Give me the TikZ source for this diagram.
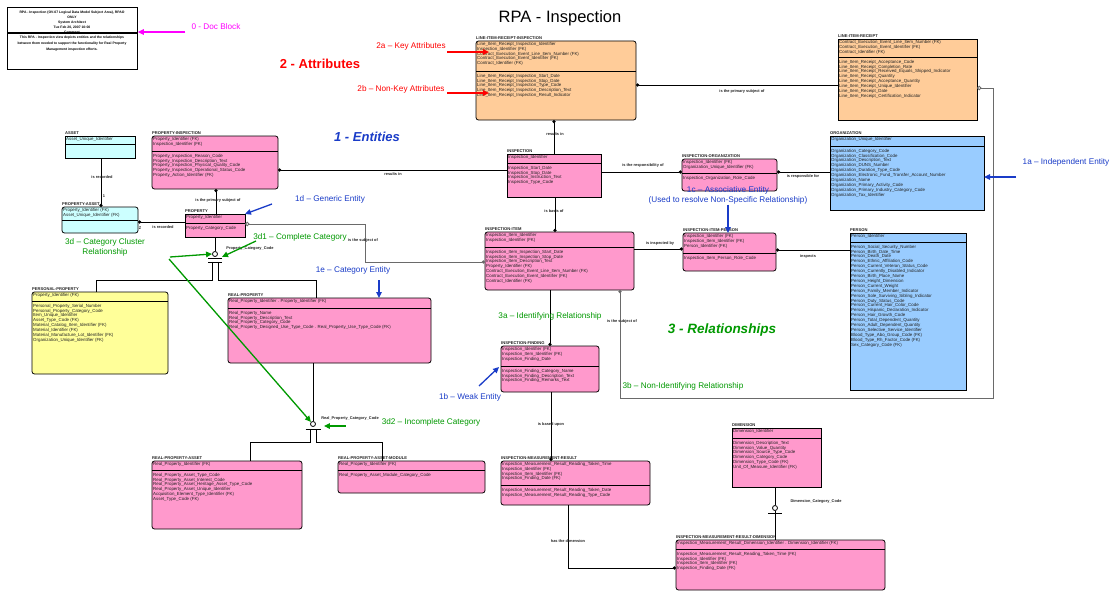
\documentclass[tikz,border=0pt]{standalone}
\usepackage{fontspec}
\setmainfont{Liberation Sans}
\usetikzlibrary{arrows.meta}

\definecolor{entpink}{HTML}{FF99CC}
\definecolor{entorange}{HTML}{FFCC99}
\definecolor{entcyan}{HTML}{CCFFFF}
\definecolor{entblue}{HTML}{99CCFF}
\definecolor{entyellow}{HTML}{FFFF99}
\definecolor{annred}{HTML}{FF0000}
\definecolor{annblue}{HTML}{1A3CC8}
\definecolor{anngreen}{HTML}{009900}
\definecolor{annmag}{HTML}{FF00FF}
\definecolor{nonid}{HTML}{6A6A6A}
\definecolor{etxt}{HTML}{222222}

\tikzset{
  ebox/.style={draw=black,line width=0.8pt,inner sep=0pt,outer sep=0pt},
  dep/.style={rounded corners=2.5pt},
  etitle/.style={font=\fontsize{4.1}{4.6}\selectfont\bfseries,inner sep=0pt,anchor=base west,text=etxt},
  etext/.style={font=\fontsize{4.4}{4.9}\selectfont,align=left,inner sep=0pt,anchor=north west,text=etxt},
  esep/.style={line width=0.7pt},
  rel/.style={draw=black,line width=0.8pt},
  nrel/.style={draw=nonid,line width=0.9pt},
  rlab/.style={font=\fontsize{3.9}{4.4}\selectfont\bfseries,inner sep=0pt,text=etxt},
  catc/.style={circle,draw,fill=white,line width=0.8pt,minimum size=5pt,inner sep=0pt},
  ann/.style={line width=1.3pt,-{Triangle[length=6pt,width=5.5pt]}},
  annlab/.style={font=\fontsize{8.2}{10}\selectfont,inner sep=0pt,align=center},
  headlab/.style={font=\fontsize{13}{15}\selectfont\bfseries,inner sep=0pt},
  doct/.style={font=\fontsize{3.4}{5}\selectfont\bfseries,align=center,inner sep=0pt},
}

% entity box: name, look, x1, y1, x2, y2, separator y, title, key attributes
\newcommand\entity[9]{%
  \node[ebox,#2,minimum width={#5-#3},minimum height={#6-#4},anchor=north west] (#1) at (#3,#4) {};
  \draw[esep] (#1.west |- 0,#7) -- (#1.east |- 0,#7);
  \node[etitle] (#1-t) at ([yshift=1.3pt]#1.north west) {#8};
  \node[etext,xshift=1pt,yshift=-0.9pt] (#1-k) at (#1.north west) {#9};
}
% non-key attributes below the separator
\newcommand\nonkey[3]{%
  \node[etext,xshift=1pt,yshift=-2.8pt] (#1-n) at (#1.west |- 0,#2) {#3};
}

\begin{document}
\catcode`\_=12
\begin{tikzpicture}[x=1pt,y=-1pt]
\fill[white] (0,0) rectangle (1114,594);
\useasboundingbox (0,0) rectangle (1114,594);

% ---------------- heading and document block ----------------
\node[font=\fontsize{16.5}{18}\selectfont,inner sep=0pt] (title) at (560,18) {RPA - Inspection};

\node[draw,line width=0.8pt,minimum width=130,minimum height=62,anchor=north west,inner sep=0pt] (doc) at (7,7) {};
\draw[line width=1.2pt] (doc.west |- 0,33) -- (doc.east |- 0,33);
\node[doct] (doc-h) at (72,19.8) {RPA - Inspection (OV-07 Logical Data Model Subject Area), RPAO\\ONLY\\System Architect\\Tue Feb 20, 2007 10:00};
\node[doct] (doc-c) at (72,32.4) {Comment};
\node[doct,font=\fontsize{3.4}{6.3}\selectfont\bfseries] (doc-b) at (72,43.6) {This RPA - Inspection view depicts entities and the relationships\\between them needed to support the functionality for Real Property\\Management inspection efforts.};

% ---------------- entities ----------------
\entity{lirinsp}{fill=entorange,dep}{476}{41}{636}{120}{71}{LINE-ITEM-RECEIPT-INSPECTION}{Line_Item_Receipt_Inspection_Identifier\\Inspection_Identifier (FK)\\Contract_Execution_Event_Line_Item_Number (FK)\\Contract_Execution_Event_Identifier (FK)\\Contract_Identifier (FK)}
\nonkey{lirinsp}{71}{Line_Item_Receipt_Inspection_Start_Date\\Line_Item_Receipt_Inspection_Stop_Date\\Line_Item_Receipt_Inspection_Type_Code\\Line_Item_Receipt_Inspection_Description_Text\\Line_Item_Receipt_Inspection_Result_Indicator}

\entity{lir}{fill=entorange}{838}{39}{977}{120}{57}{LINE-ITEM-RECEIPT}{Contract_Execution_Event_Line_Item_Number (FK)\\Contract_Execution_Event_Identifier (FK)\\Contract_Identifier (FK)}
\nonkey{lir}{57}{Line_Item_Receipt_Acceptance_Code\\Line_Item_Receipt_Completion_Rate\\Line_Item_Receipt_Received_Equals_Shipped_Indicator\\Line_Item_Receipt_Quantity\\Line_Item_Receipt_Acceptance_Quantity\\Line_Item_Receipt_Unique_Identifier\\Line_Item_Receipt_Date\\Line_Item_Receipt_Certification_Indicator}

\entity{insp}{fill=entpink}{507}{154}{601}{197}{163}{INSPECTION}{Inspection_Identifier}
\nonkey{insp}{163}{Inspection_Start_Date\\Inspection_Stop_Date\\Inspection_Instruction_Text\\Inspection_Type_Code}

\entity{inorg}{fill=entpink,dep}{682}{159}{777}{191}{173}{INSPECTION-ORGANIZATION}{Inspection_Identifier (FK)\\Organization_Unique_Identifier (FK)}
\nonkey{inorg}{173}{Inspection_Organization_Role_Code}

\entity{org}{fill=entblue}{830}{136}{984}{210}{146}{ORGANIZATION}{Organization_Unique_Identifier}
\nonkey{org}{146}{Organization_Category_Code\\Organization_Classification_Code\\Organization_Description_Text\\Organization_DUNS_Number\\Organization_Duration_Type_Code\\Organization_Electronic_Fund_Transfer_Account_Number\\Organization_Name\\Organization_Primary_Activity_Code\\Organization_Primary_Industry_Category_Code\\Organization_Tax_Identifier}

\entity{pinsp}{fill=entpink,dep}{152}{136}{278}{189}{151}{PROPERTY-INSPECTION}{Property_Identifier (FK)\\Inspection_Identifier (FK)}
\nonkey{pinsp}{151}{Property_Inspection_Reason_Code\\Property_Inspection_Description_Text\\Property_Inspection_Physical_Quality_Code\\Property_Inspection_Operational_Status_Code\\Property_Action_Identifier (FK)}

\entity{asset}{fill=entcyan}{65}{136}{135}{158}{144}{ASSET}{Asset_Unique_Identifier}

\entity{passet}{fill=entcyan,dep}{62}{207}{138}{233}{220}{PROPERTY-ASSET}{Property_Identifier (FK)\\Asset_Unique_Identifier (FK)}

\entity{prop}{fill=entpink}{185}{214}{245}{237}{223}{PROPERTY}{Property_Identifier}
\nonkey{prop}{223}{Property_Category_Code}

\entity{item}{fill=entpink,dep}{485}{232}{634}{290}{247}{INSPECTION-ITEM}{Inspection_Item_Identifier\\Inspection_Identifier (FK)}
\nonkey{item}{247}{Inspection_Item_Inspection_Start_Date\\Inspection_Item_Inspection_Stop_Date\\Inspection_Item_Description_Text\\Property_Identifier (FK)\\Contract_Execution_Event_Line_Item_Number (FK)\\Contract_Execution_Event_Identifier (FK)\\Contract_Identifier (FK)}

\entity{itemp}{fill=entpink,dep}{683}{233}{776}{271}{253}{INSPECTION-ITEM-PERSON}{Inspection_Identifier (FK)\\Inspection_Item_Identifier (FK)\\Person_Identifier (FK)}
\nonkey{itemp}{253}{Inspection_Item_Person_Role_Code}

\entity{person}{fill=entblue}{850}{233}{966}{390}{242}{PERSON}{Person_Identifier}
\nonkey{person}{242}{Person_Social_Security_Number\\Person_Birth_Date_Time\\Person_Death_Date\\Person_Ethnic_Affiliation_Code\\Person_Current_Veteran_Status_Code\\Person_Currently_Disabled_Indicator\\Person_Birth_Place_Name\\Person_Height_Dimension\\Person_Current_Weight\\Person_Family_Member_Indicator\\Person_Sole_Surviving_Sibling_Indicator\\Person_Duty_Status_Code\\Person_Current_Hair_Color_Code\\Person_Hispanic_Declaration_Indicator\\Person_Hair_Growth_Code\\Person_Total_Dependent_Quantity\\Person_Adult_Dependent_Quantity\\Person_Selective_Service_Identifier\\Blood_Type_Abo_Group_Code (FK)\\Blood_Type_Rh_Factor_Code (FK)\\Sex_Category_Code (FK)}

\entity{pers}{fill=entyellow,dep}{32}{292}{168}{374}{301}{PERSONAL-PROPERTY}{Property_Identifier (FK)}
\nonkey{pers}{301}{Personal_Property_Serial_Number\\Personal_Property_Category_Code\\Item_Unique_Identifier\\Asset_Type_Code (FK)\\Material_Catalog_Item_Identifier (FK)\\Material_Identifier (FK)\\Material_Manufacture_Lot_Identifier (FK)\\Organization_Unique_Identifier (FK)}

\entity{realp}{fill=entpink,dep}{228}{298}{431}{363}{308}{REAL-PROPERTY}{Real_Property_Identifier . Property_Identifier (FK)}
\nonkey{realp}{308}{Real_Property_Name\\Real_Property_Description_Text\\Real_Property_Category_Code\\Real_Property_Designed_Use_Type_Code . Real_Property_Use_Type_Code (FK)}

\entity{rpa}{fill=entpink,dep}{152}{461}{302}{529}{470}{REAL-PROPERTY-ASSET}{Real_Property_Identifier (FK)}
\nonkey{rpa}{470}{Real_Property_Asset_Type_Code\\Real_Property_Asset_Interest_Code\\Real_Property_Asset_Heritage_Asset_Type_Code\\Real_Property_Asset_Unique_Identifier\\Acquisition_Element_Type_Identifier (FK)\\Asset_Type_Code (FK)}

\entity{rpam}{fill=entpink,dep}{338}{461}{485}{493}{470}{REAL-PROPERTY-ASSET-MODULE}{Real_Property_Identifier (FK)}
\nonkey{rpam}{470}{Real_Property_Asset_Module_Category_Code}

\entity{find}{fill=entpink,dep}{501}{346}{599}{392}{366}{INSPECTION-FINDING}{Inspection_Identifier (FK)\\Inspection_Item_Identifier (FK)\\Inspection_Finding_Date}
\nonkey{find}{366}{Inspection_Finding_Category_Name\\Inspection_Finding_Description_Text\\Inspection_Finding_Remarks_Text}

\entity{imr}{fill=entpink,dep}{501}{461}{650}{505}{485}{INSPECTION-MEASUREMENT-RESULT}{Inspection_Measurement_Result_Reading_Taken_Time\\Inspection_Identifier (FK)\\Inspection_Item_Identifier (FK)\\Inspection_Finding_Date (FK)}
\nonkey{imr}{485}{Inspection_Measurement_Result_Reading_Taken_Date\\Inspection_Measurement_Result_Reading_Type_Code}

\entity{dim}{fill=entpink}{732}{428}{821}{487}{438}{DIMENSION}{Dimension_Identifier}
\nonkey{dim}{438}{Dimension_Description_Text\\Dimension_Value_Quantity\\Dimension_Source_Type_Code\\Dimension_Category_Code\\Dimension_Type_Code (FK)\\Unit_Of_Measure_Identifier (FK)}

\entity{imrd}{fill=entpink,dep}{676}{540}{885}{590}{549}{INSPECTION-MEASUREMENT-RESULT-DIMENSION}{Inspection_Measurement_Result_Dimension_Identifier . Dimension_Identifier (FK)}
\nonkey{imrd}{549}{Inspection_Measurement_Result_Reading_Taken_Time (FK)\\Inspection_Identifier (FK)\\Inspection_Item_Identifier (FK)\\Inspection_Finding_Date (FK)}

% ---------------- relationships ----------------
\coordinate (bendA) at (993,398);
\coordinate (bendB) at (365,262);

\draw[rel,{Circle[length=3.2pt]}-] (lirinsp.east |- 0,85) -- (lir.west |- 0,85);
\draw[nrel,{Circle[open,length=4.5pt]}-{Circle[length=3.2pt]}] (lir.east |- 0,88) -| (bendA) -| (item.south -| 620,0);
\draw[rel,{Circle[length=3.2pt]}-] (lirinsp.south -| 554,0) -- (insp.north -| 554,0);
\draw[rel,{Circle[length=3.2pt]}-] (pinsp.east |- 0,170) -- (insp.west |- 0,170);
\draw[rel,-{Circle[length=3.2pt]}] (insp.east |- 0,172) -- (inorg.west |- 0,172);
\draw[rel,{Circle[length=3.2pt]}-] (inorg.east |- 0,172) -- (org.west |- 0,172);
\draw[rel,-{Circle[length=3.2pt]}] (insp.south -| 555,0) -- (item.north -| 555,0);
\draw[rel,-{Circle[length=3.2pt]}] (item.east |- 0,249) -- (itemp.west |- 0,249);
\draw[rel,{Circle[length=3.2pt]}-] (itemp.east |- 0,250) -- (person.west |- 0,250);
\draw[rel,-{Circle[length=3.2pt]}] (item.south -| 550,0) -- (find.north -| 550,0);
\draw[rel,-{Circle[length=3.2pt]}] (find.south -| 551,0) -- (imr.north -| 551,0);
\draw[rel,-{Circle[length=3.2pt]}] (imr.south -| 568,0) |- (imrd.west |- 0,568);
\draw[rel,-{Circle[length=3.2pt]}] (asset.south -| 101,0) -- (passet.north -| 101,0);
\draw[rel,-{Circle[length=3.2pt]}] (prop.west |- 0,222) -- (passet.east |- 0,222);
\draw[rel,-{Circle[length=3.2pt]}] (prop.north -| 216,0) -- (pinsp.south -| 216,0);
\draw[nrel,{Circle[open,length=4.5pt]}-{Circle[length=3.2pt]}] (prop.east |- 0,224) -| (bendB) -- (item.west |- 0,262);

% complete category under PROPERTY
\node[catc] (cat1) at (215,254) {};
\coordinate (cat1L) at (96,280);
\coordinate (cat1R) at (316,280);
\draw[rel] (prop.south -| cat1) -- (cat1.north);
\draw[rel] ([xshift=-7pt,yshift=-1.6pt]cat1.south) -- ([xshift=7pt,yshift=-1.6pt]cat1.south);
\draw[rel] ([xshift=-7pt,yshift=-5pt]cat1.south) -- ([xshift=7pt,yshift=-5pt]cat1.south);
\draw[rel] ([xshift=-3pt,yshift=-5pt]cat1.south) |- (cat1L) -- (pers.north -| cat1L);
\draw[rel] ([xshift=3pt,yshift=-5pt]cat1.south) |- (cat1R) -- (realp.north -| cat1R);

% incomplete category under REAL-PROPERTY
\node[catc] (cat2) at (313,424) {};
\coordinate (cat2L) at (250,442);
\coordinate (cat2R) at (382,442);
\draw[rel] (realp.south -| cat2) -- (cat2.north);
\draw[rel] ([xshift=-7.5pt,yshift=-2.2pt]cat2.south) -- ([xshift=7.5pt,yshift=-2.2pt]cat2.south);
\draw[rel] ([xshift=-2.5pt,yshift=-2.2pt]cat2.south) |- (cat2L) -- (rpa.north -| cat2L);
\draw[rel] ([xshift=3.5pt,yshift=-2.2pt]cat2.south) |- (cat2R) -- (rpam.north -| cat2R);

% category under DIMENSION
\node[catc] (cat3) at (775,508) {};
\draw[rel] (dim.south -| cat3) -- (cat3.north);
\draw[rel] ([xshift=-7pt,yshift=-2.5pt]cat3.south) -- ([xshift=7pt,yshift=-2.5pt]cat3.south);
\draw[rel] (cat3.south) -- (imrd.north -| cat3);

% relationship verb phrases and discriminators
\node[rlab] (v1) at (742,91) {is the primary subject of};
\node[rlab] (v2) at (555,134) {results in};
\node[rlab] (v3) at (393,174) {results in};
\node[rlab] (v4) at (643,165) {is the responsibility of};
\node[rlab] (v5) at (803,176) {is responsible for};
\node[rlab] (v6) at (554,211) {is basis of};
\node[rlab] (v7) at (218,200) {is the primary subject of};
\node[rlab] (v8) at (102,177) {is recorded};
\node[rlab] (v9) at (163,227) {is recorded};
\node[rlab] (v10) at (363,240) {is the subject of};
\node[rlab] (v11) at (660,243) {is inspected by};
\node[rlab] (v12) at (808,256) {inspects};
\node[rlab] (v13) at (622,321) {is the subject of};
\node[rlab] (v14) at (551,424) {is based upon};
\node[rlab] (v15) at (568,541) {has the dimension};
\node[rlab] (d1) at (250,248) {Property_Category_Code};
\node[rlab] (d2) at (350,418) {Real_Property_Category_Code};
\node[rlab] (d3) at (816,501) {Dimension_Category_Code};
\node[rlab] (c1) at (104,196) {1};
\node[rlab] (c2) at (140,228) {Z};

% ---------------- annotations ----------------
\node[annlab,text=annmag] (a0) at (216,27) {0 - Doc Block};
\draw[ann,annmag] (a0.west |- 0,32) ++(-6,0) coordinate (a0s) -- (doc.east |- 0,32);

\node[headlab,text=annred] (a2) at (320,64) {2 - Attributes};
\node[annlab,text=annred] (a2a) at (411,46) {2a – Key Attributes};
\node[annlab,text=annred] (a2b) at (401,89) {2b – Non-Key Attributes};
\draw[ann,annred] (447,52) -- (lirinsp.west |- 0,52) -- ++(13,0);
\draw[ann,annred] (447,93) -- (lirinsp.west |- 0,93) -- ++(13,0);

\node[headlab,font=\fontsize{13}{15}\selectfont\bfseries\itshape,text=annblue] (a1) at (367,137) {1 - Entities};
\node[annlab,text=annblue] (a1a) at (1066,162) {1a – Independent Entity};
\draw[ann,annblue] (1016,177) -- (org.east |- 0,177);
\node[annlab,text=annblue] (a1b) at (470,397) {1b – Weak Entity};
\draw[ann,annblue] (479,386) -- (499,367);
\node[annlab,text=annblue] (a1c) at (728,195.5) {1c – Associative Entity\\(Used to resolve Non-Specific Relationship)};
\draw[ann,annblue] (a1c.south -| 728,0) -- (itemp.north -| 728,0);
\node[annlab,text=annblue] (a1d) at (330,199) {1d – Generic Entity};
\draw[ann,annblue] (272,204) -- (prop.north east);
\node[annlab,text=annblue] (a1e) at (353,270) {1e – Category Entity};
\draw[ann,annblue] (379,280) -- (realp.north -| 379,0);

\node[headlab,font=\fontsize{13.5}{15}\selectfont\bfseries\itshape,text=anngreen] (a3) at (722,330) {3 - Relationships};
\node[annlab,text=anngreen] (a3a) at (550,316) {3a – Identifying Relationship};
\node[annlab,text=anngreen] (a3b) at (683,386) {3b – Non-Identifying Relationship};
\node[annlab,text=anngreen] (a3d) at (105,247.5) {3d – Category Cluster\\Relationship};
\node[annlab,text=anngreen] (a3d1) at (300,237) {3d1 – Complete Category};
\node[annlab,text=anngreen] (a3d2) at (431,422) {3d2 – Incomplete Category};
\coordinate (g0) at (170,257);
\draw[ann,anngreen] (g0) -- (cat1.west);
\draw[ann,anngreen] (169,259) -- (cat2.north west);
\draw[ann,anngreen] (256,241) -- ([xshift=7pt]cat1.south);
\draw[ann,anngreen] (a3d2.west |- 0,426) ++(-36,0) -- ([xshift=8pt,yshift=-2pt]cat2.east);

\end{tikzpicture}
\end{document}
